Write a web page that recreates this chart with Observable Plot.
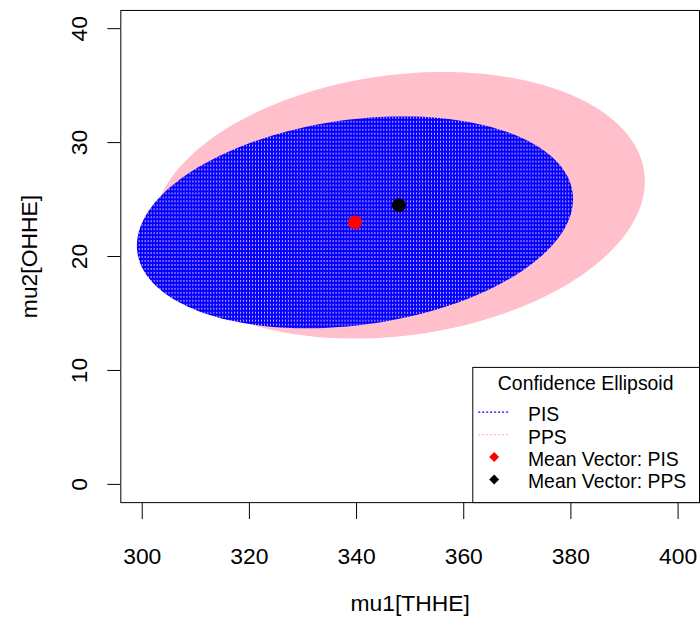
<!DOCTYPE html>
<html><head><meta charset="utf-8">
<script src="https://cdn.jsdelivr.net/npm/d3@7"></script>
<script src="https://cdn.jsdelivr.net/npm/@observablehq/plot@0.6"></script>
<style>
html,body{margin:0;padding:0;background:#fff;overflow:hidden;width:700px;height:623px;}
#chart svg{display:block;}
</style></head><body><div id="chart"></div>
<script>
// ---- data ----
const groups = ["PIS", "PPS"];
const meanMu1 = [339.7, 347.9];
const meanMu2 = [23.0, 24.5];
const halfRangeMu1 = [40.7, 45.9];   // horizontal half-extent of each confidence ellipse
const halfRangeMu2 = [9.3, 11.7];    // vertical half-extent
const correlation = [0.22, 0.18];    // tilt (correlation) of each ellipse
const xTicks = [300, 320, 340, 360, 380, 400];
const yTicks = [0, 10, 20, 30, 40];
const xLabel = "mu1[THHE]";
const yLabel = "mu2[OHHE]";
const legendTitle = "Confidence Ellipsoid";
const legendLabels = ["PIS", "PPS", "Mean Vector: PIS", "Mean Vector: PPS"];

// ---- styles ----
const ellipseFill = {PIS: "url(#pisTexture)", PPS: "pink"};
const meanColor = {PIS: "red", PPS: "black"};
const lineColor = {PIS: "blue", PPS: "pink"};
const FONT = "'Liberation Sans', Arial, sans-serif";

// ellipse outlines from centre, extents and correlation
function ellipse(i) {
  const pts = [];
  const n = 180, r = correlation[i], s = Math.sqrt(1 - r * r);
  for (let k = 0; k < n; k++) {
    const t = 2 * Math.PI * k / n;
    pts.push({
      group: groups[i],
      mu1: meanMu1[i] + halfRangeMu1[i] * Math.cos(t),
      mu2: meanMu2[i] + halfRangeMu2[i] * (r * Math.cos(t) + s * Math.sin(t))
    });
  }
  return pts;
}
const pisPts = ellipse(0), ppsPts = ellipse(1);
const means = groups.map((g, i) => ({group: g, mu1: meanMu1[i], mu2: meanMu2[i], color: meanColor[g]}));

const W = 704, H = 623, mL = 121, mR = 1, mT = 10, mB = 118;

const plot = Plot.plot({
  width: W, height: H,
  marginLeft: mL, marginRight: mR, marginTop: mT, marginBottom: mB,
  style: {fontFamily: FONT, color: "black", background: "white"},
  x: {domain: [296, 404], label: null},
  y: {domain: [-1.6, 41.6], label: null},
  color: {type: "identity"},
  marks: [
    Plot.line(ppsPts, {x: "mu1", y: "mu2", fill: ellipseFill.PPS, stroke: "none", curve: "linear-closed"}),
    Plot.line(pisPts, {x: "mu1", y: "mu2", fill: ellipseFill.PIS, stroke: "none", curve: "linear-closed"}),
    Plot.dot(means, {x: "mu1", y: "mu2", r: 7, fill: "color", stroke: "none"}),
    Plot.frame({stroke: "black"}),
    Plot.axisX({ticks: xTicks, tickSize: 17, tickPadding: 28, fontSize: 23, label: null, tickFormat: d => String(d)}),
    Plot.axisY({ticks: yTicks, tickSize: 13, label: null, tickFormat: () => ""}),
    Plot.text(yTicks, {y: d => d, text: d => String(d), frameAnchor: "left", textAnchor: "middle", rotate: -90, dx: -34, lineAnchor: "bottom", fontSize: 23}),
    Plot.text([xLabel], {text: d => d, frameAnchor: "bottom", textAnchor: "middle", dy: 109, lineAnchor: "bottom", fontSize: 23}),
    Plot.text([yLabel], {text: d => d, frameAnchor: "left", textAnchor: "middle", rotate: -90, dx: -84, lineAnchor: "bottom", fontSize: 23})
  ]
});

// texture for the PIS ellipse (dense dotted lines in the original)
const svg = d3.select(plot);
const defs = svg.insert("defs", ":first-child");
const pat = defs.append("pattern").attr("id", "pisTexture")
  .attr("patternUnits", "userSpaceOnUse").attr("width", 3).attr("height", 4);
pat.append("rect").attr("width", 3).attr("height", 4).attr("fill", "#0000ff");
pat.append("rect").attr("x", 1).attr("y", 1).attr("width", 1).attr("height", 2).attr("fill", "#d8aef0");

// legend (bottom-right corner of the plot region)
const frameRight = W - mR, frameBottom = H - mB;
const lgW = 228, lgH = 136;
const lgX = frameRight - lgW, lgY = frameBottom - lgH;
const lg = svg.append("g").attr("font-family", FONT).attr("fill", "black").attr("text-anchor", "start");
lg.append("rect").attr("x", lgX + 0.5).attr("y", lgY + 0.5).attr("width", lgW).attr("height", lgH)
  .attr("fill", "white").attr("stroke", "black");
lg.append("text").attr("x", lgX + lgW / 2).attr("y", lgY + 23).attr("text-anchor", "middle")
  .attr("font-size", 19.5).text(legendTitle);
const rowBase = lgY + 54.5, rowStep = 22.6, symX = lgX + 22, txtX = lgX + 56;
legendLabels.forEach((lab, i) => {
  const base = rowBase + i * rowStep, cy = base - 9;
  if (i < 2) {
    lg.append("line").attr("x1", lgX + 6).attr("x2", lgX + 38).attr("y1", cy).attr("y2", cy)
      .attr("stroke", lineColor[groups[i]]).attr("stroke-width", 1.2).attr("stroke-dasharray", "2,2");
  } else {
    const g = groups[i - 2], d = 5;
    lg.append("path").attr("d", `M${symX},${cy - d}L${symX + d},${cy}L${symX},${cy + d}L${symX - d},${cy}Z`)
      .attr("fill", meanColor[g]);
  }
  lg.append("text").attr("x", txtX).attr("y", base).attr("text-anchor", "start")
    .attr("font-size", 19.5).text(lab);
});

document.getElementById("chart").appendChild(plot);
</script></body></html>
